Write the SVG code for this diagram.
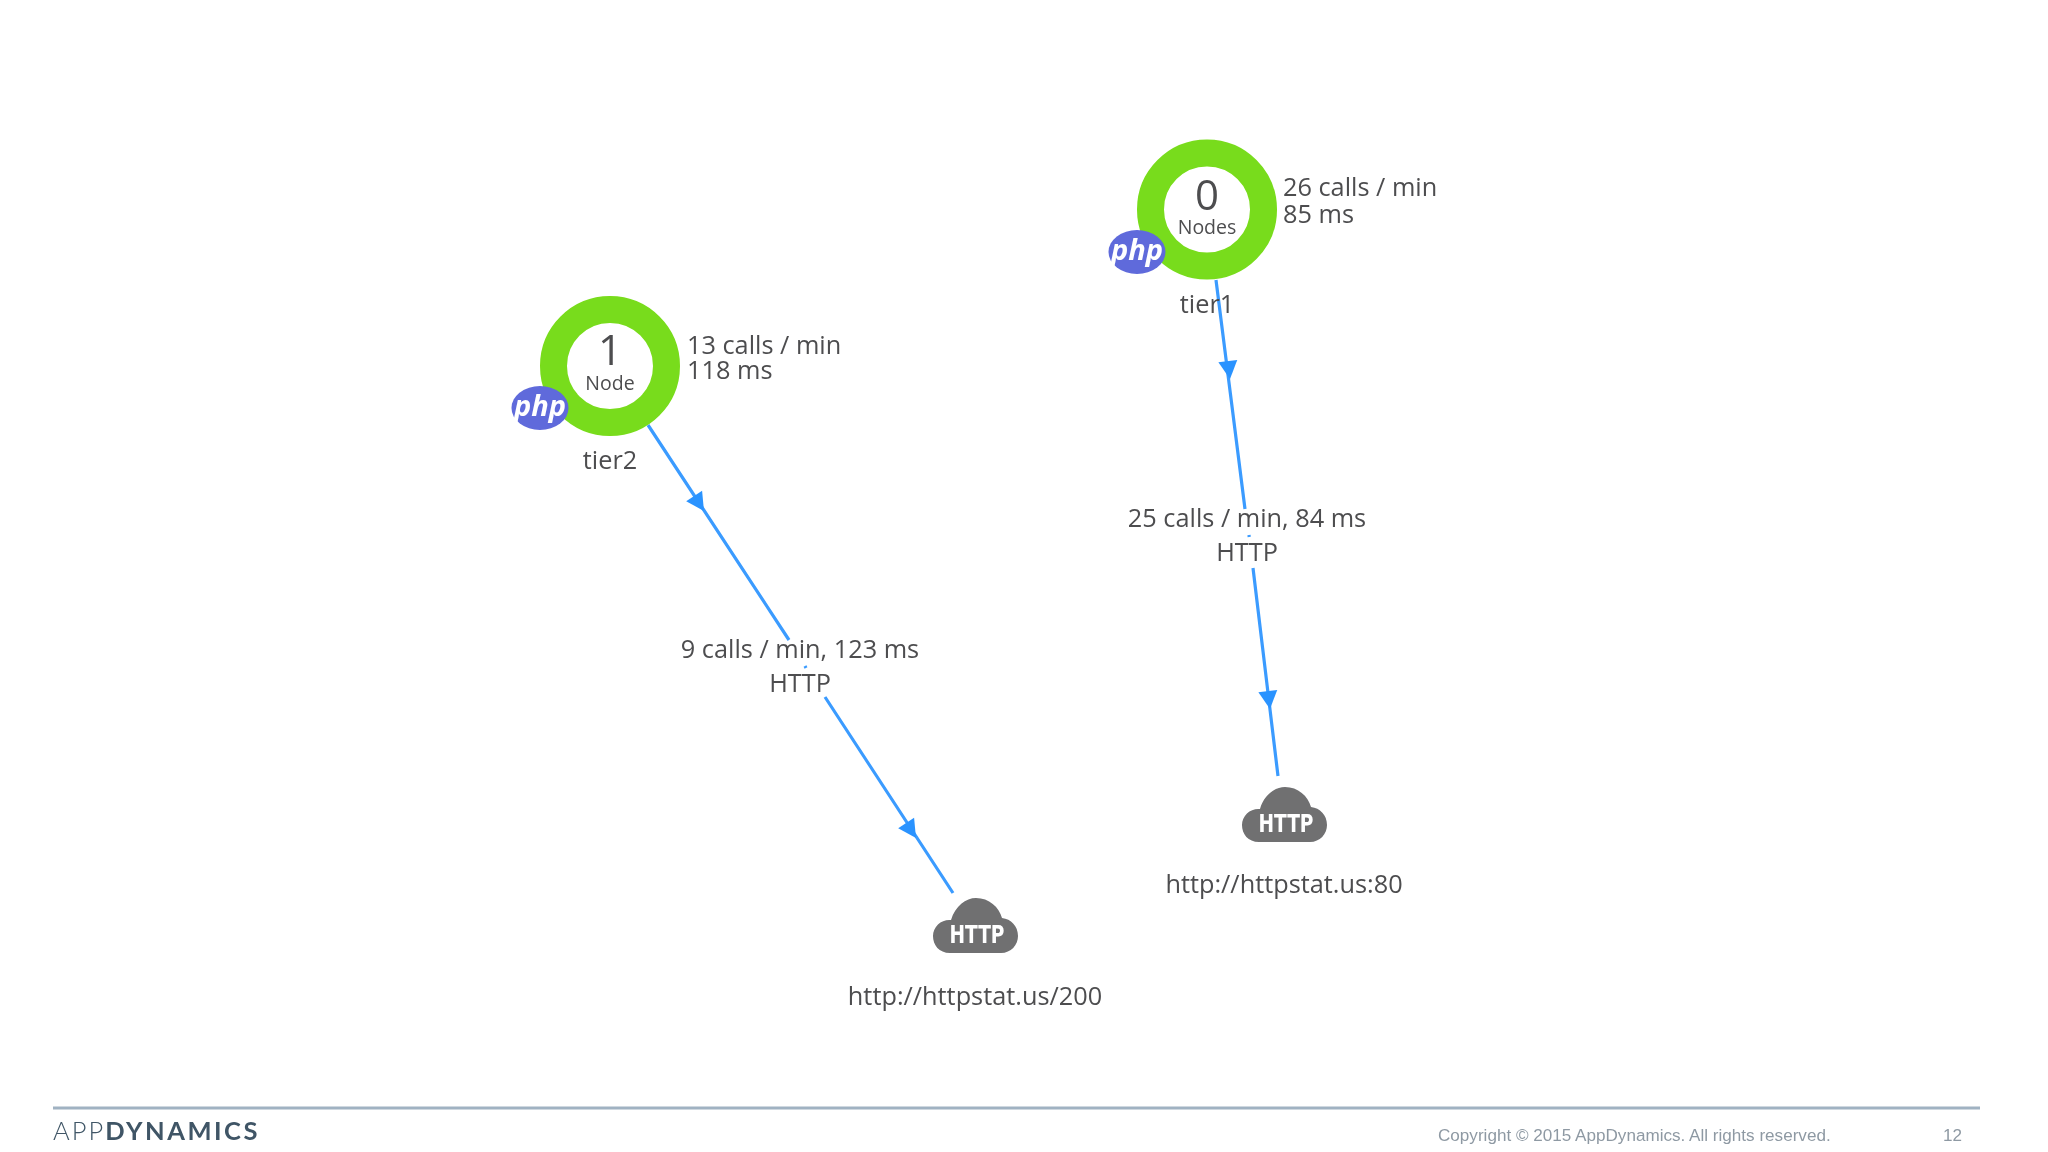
<svg xmlns="http://www.w3.org/2000/svg" width="2048" height="1152" viewBox="0 0 2048 1152">
<style>
.t{font-family:"Open Sans","Noto Sans",sans-serif;fill:#4d4d4f;font-size:25.300px}
.m{text-anchor:middle}
.ring{fill:#fff;stroke:#78dc1a;stroke-width:27}
.big{font-size:42px}
.sub{font-size:19.500px}
.php{font-family:"Open Sans",sans-serif;font-style:italic;font-weight:700;font-size:29px;fill:#fff;text-anchor:middle}
.badge{fill:#5f6bdb}
.cloud{fill:#6f6f71}
.ht{font-family:"DejaVu Sans",sans-serif;font-weight:700;font-size:24px;fill:#fff;text-anchor:middle}
.edge{fill:none;stroke:#3a9bff;stroke-width:3.200}
.head{fill:#2b93ff}
.foot{font-family:"Liberation Sans",sans-serif;font-size:17.100px;fill:#8e99a3}
</style>
<defs>
<filter id="soft" x="-5%" y="-5%" width="110%" height="110%"><feGaussianBlur stdDeviation="0.6"/></filter>
<path id="cl" d="M-25 0C-36 0-42-8-42-17C-42-27-33-34-24-33C-20-47-9-55 1-55C14-55 24-46 27-35C36-34 43-27 43-17C43-8 36 0 26 0Z"/>
<path id="ah" d="M0 0L-18 -9.500L-18 9.500Z"/>
</defs>
<rect width="2048" height="1152" fill="#fff"/>
<g filter="url(#soft)">
<g id="connectors">
<path class="edge" d="M648 425L789 640M805 666L806 668M825 697L953 893"/>
<path class="edge" d="M1216 280L1245 509M1249 535L1249.200 537M1253 568L1278 776"/>
<use href="#ah" class="head" transform="translate(704 511) rotate(56.800)"/>
<use href="#ah" class="head" transform="translate(916 838) rotate(56.800)"/>
<use href="#ah" class="head" transform="translate(1230 379) rotate(83)"/>
<use href="#ah" class="head" transform="translate(1270 709) rotate(83)"/>
</g>
<g id="tier2">
<circle class="ring" cx="610" cy="366" r="56.500"/>
<ellipse class="badge" cx="540" cy="408" rx="28.500" ry="22"/>
<text class="php" x="540" y="416">php</text>
<text class="t m big" x="610" y="365">1</text>
<text class="t m sub" x="610" y="390">Node</text>
<text class="t m" x="610" y="469">tier2</text>
<text class="t" x="687" y="354">13 calls / min</text>
<text class="t" x="687" y="379">118 ms</text>
</g>
<g id="tier1">
<circle class="ring" cx="1207" cy="209.500" r="56.500"/>
<ellipse class="badge" cx="1137" cy="252" rx="28.500" ry="22"/>
<text class="php" x="1137" y="260">php</text>
<text class="t m big" x="1207" y="210">0</text>
<text class="t m sub" x="1207" y="234">Nodes</text>
<text class="t m" x="1207" y="313">tier1</text>
<text class="t" x="1283" y="196">26 calls / min</text>
<text class="t" x="1283" y="223">85 ms</text>
</g>
<g id="edge-label-tier2">
<text class="t m" x="800" y="658">9 calls / min, 123 ms</text>
<text class="t m" x="800" y="692">HTTP</text>
</g>
<g id="edge-label-tier1">
<text class="t m" x="1247" y="527">25 calls / min, 84 ms</text>
<text class="t m" x="1247" y="561">HTTP</text>
</g>
<g id="http200">
<use href="#cl" class="cloud" x="975" y="953"/>
<text class="ht" x="977" y="943" textLength="55" lengthAdjust="spacingAndGlyphs">HTTP</text>
<text class="t m" x="975" y="1005">http://httpstat.us/200</text>
</g>
<g id="http80">
<use href="#cl" class="cloud" x="1284" y="842"/>
<text class="ht" x="1286" y="832" textLength="55" lengthAdjust="spacingAndGlyphs">HTTP</text>
<text class="t m" x="1284" y="893">http://httpstat.us:80</text>
</g>
<g id="footer">
<rect x="53" y="1106.500" width="1927" height="3" fill="#a0b2c2"/>
<text x="53" y="1140" font-family="Lato,sans-serif" font-size="25.500" fill="#3f5566"><tspan font-weight="300" letter-spacing="2">APP</tspan><tspan font-weight="700" letter-spacing="2.500">DYNAMICS</tspan></text>
<text class="foot" x="1438" y="1140.500">Copyright © 2015 AppDynamics. All rights reserved.</text>
<text class="foot" x="1943" y="1140.500">12</text>
</g>
</g>
</svg>
